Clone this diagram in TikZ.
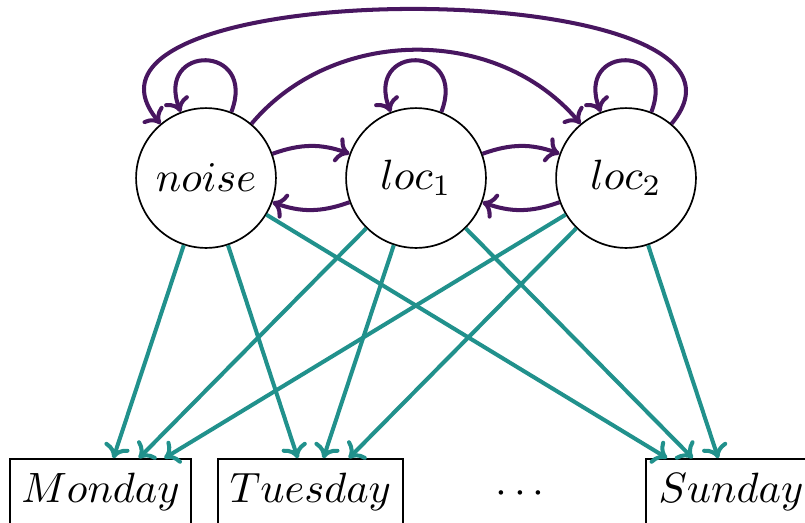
\documentclass[tikz,border=0pt]{standalone}
\usetikzlibrary{arrows.meta}
\definecolor{vpurple}{RGB}{72,22,96}
\definecolor{vteal}{RGB}{33,145,140}
\begin{document}
\begin{tikzpicture}[x=0.236pt,y=0.236pt,
  state/.style={circle,draw,minimum size=33pt,inner sep=0pt},
  day/.style={rectangle,draw,minimum height=17.9pt,inner sep=0pt,text height=7pt,text depth=4.2pt},
  tip/.style={-{To[length=3.2pt,width=6.2pt]}},
  trans/.style={draw=vpurple,line width=0.95pt,tip},
  emit/.style={draw=vteal,line width=0.95pt,tip}]
\useasboundingbox (0,0) rectangle (805,522);
\node[state] (noise) at (206,344) {$noise$};
\node[state] (loc1) at (416,344) {$loc_1$};
\node[state] (loc2) at (626,344) {$loc_2$};
\node[day,minimum width=42.7pt] (mon) at (100.5,25) {$Monday$};
\node[day,minimum width=43.7pt] (tue) at (310.5,25) {$Tuesday$};
\node[day,minimum width=40.1pt] (sun) at (731,25) {$Sunday$};
\node[anchor=base] (dots) at (520,19) {$\cdots$};
% self loops
\draw[trans] (noise) to[out=69,in=111,looseness=3.7] (noise);
\draw[trans] (loc1) to[out=69,in=111,looseness=3.7] (loc1);
\draw[trans] (loc2) to[out=69,in=111,looseness=3.7] (loc2);
% neighbour transitions
\draw[trans] (noise) to[bend left=20] (loc1);
\draw[trans] (loc1) to[bend left=20] (noise);
\draw[trans] (loc1) to[bend left=20] (loc2);
\draw[trans] (loc2) to[bend left=20] (loc1);
% long arcs
\draw[trans] (noise) to[out=50,in=130,looseness=1] (loc2);
\draw[trans] (loc2) to[out=50,in=130,looseness=1] (noise);
% emissions
\foreach \s in {noise,loc1,loc2}{
  \foreach \d in {mon,tue,sun}{
    \draw[emit] (\s) -- (\d);
  }
}
\end{tikzpicture}
\end{document}
